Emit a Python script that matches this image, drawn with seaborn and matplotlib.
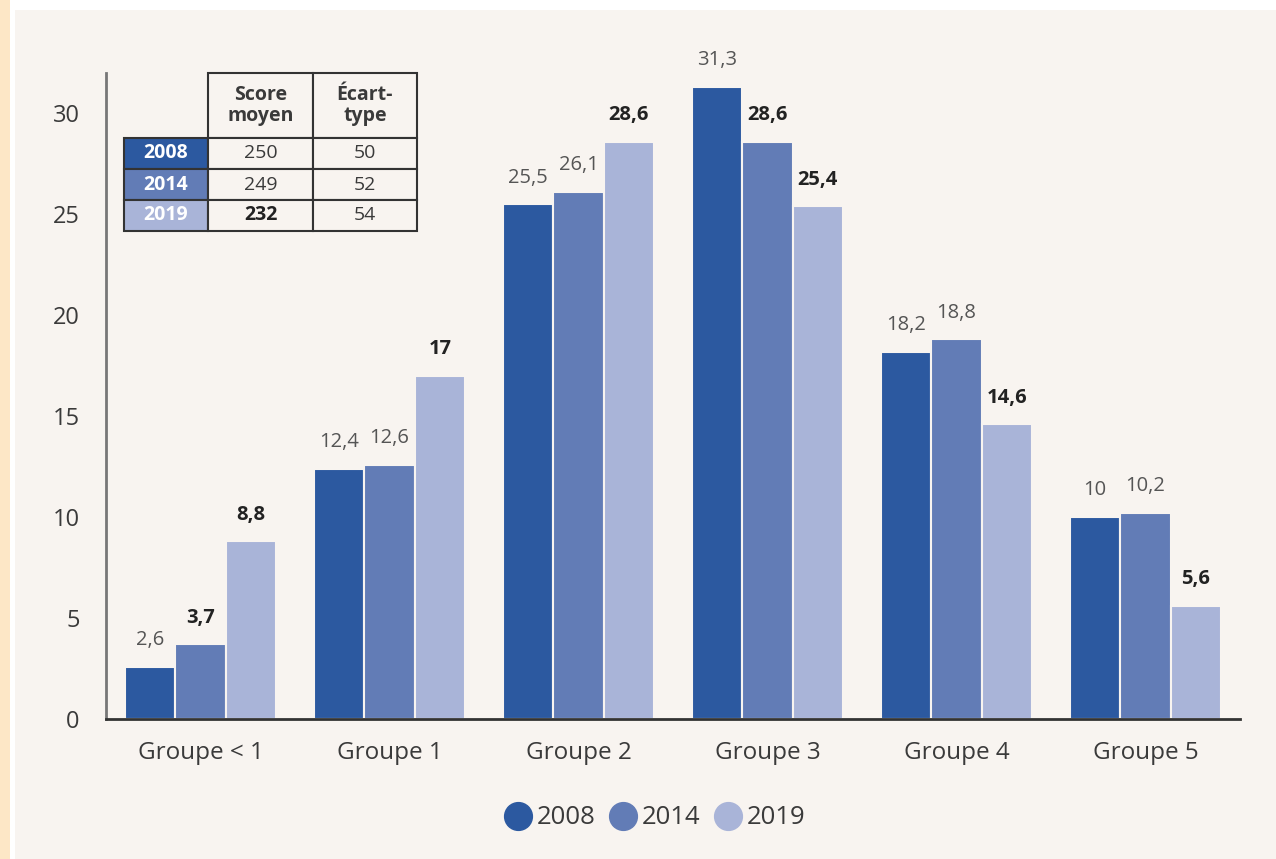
import matplotlib
matplotlib.use("Agg")
import numpy as np
import pandas as pd
import matplotlib.pyplot as plt
import seaborn as sns
from matplotlib.lines import Line2D
from matplotlib.patches import Rectangle

# data
groupes = ["Groupe < 1", "Groupe 1", "Groupe 2", "Groupe 3", "Groupe 4", "Groupe 5"]
annees = ["2008", "2014", "2019"]
val_2008 = [2.6, 12.4, 25.5, 31.3, 18.2, 10]
val_2014 = [3.7, 12.6, 26.1, 28.6, 18.8, 10.2]
val_2019 = [8.8, 17, 28.6, 25.4, 14.6, 5.6]
# bold = significant change
gras_2008 = [False, False, False, False, False, False]
gras_2014 = [True, False, False, True, False, False]
gras_2019 = [True, True, True, True, True, True]

# table
table_entetes = ["", "Score\nmoyen", "Écart-\ntype"]
score_moyen = ["250", "249", "232"]
ecart_type = ["50", "52", "54"]

couleurs = ["#2c59a0", "#627cb6", "#a9b4d8"]
fond = "#f8f4f0"
texte = "#3a3a3a"

df = pd.DataFrame({
    "groupe": groupes * 3,
    "valeur": val_2008 + val_2014 + val_2019,
    "annee": [a for a in annees for _ in groupes],
})

sns.set_style("white")
plt.rcParams["font.family"] = ["Open Sans", "DejaVu Sans"]

fig = plt.figure(figsize=(12.76, 8.59), dpi=100)
fig.patch.set_facecolor("white")
# page background + orange side strip
fig.patches.append(Rectangle((15 / 1276, 0), 1, 1 - 10 / 859, transform=fig.transFigure,
                             facecolor=fond, edgecolor="none", zorder=-10))
fig.patches.append(Rectangle((0, 0), 10 / 1276, 1, transform=fig.transFigure,
                             facecolor="#fde7c6", edgecolor="none", zorder=-10))

ax = fig.add_axes([106 / 1276, 1 - 719 / 859, (1240 - 106) / 1276, (719 - 73) / 859])
ax.set_facecolor(fond)

sns.barplot(data=df, x="groupe", y="valeur", hue="annee", palette=couleurs, saturation=1,
            width=0.8, edgecolor=fond, linewidth=1.5, legend=False, ax=ax)

ax.set_ylim(0, 32)
ax.set_xlim(-0.5, 5.5)
ax.set_yticks([0, 5, 10, 15, 20, 25, 30])
ax.set_xlabel("")
ax.set_ylabel("")
ax.tick_params(axis="y", length=0, pad=19, labelsize=17, labelcolor=texte)
ax.tick_params(axis="x", length=0, pad=16, labelsize=17.5, labelcolor=texte)
for s in ["top", "right"]:
    ax.spines[s].set_visible(False)
ax.spines["left"].set_color("#777777")
ax.spines["left"].set_linewidth(2)
ax.spines["bottom"].set_color("#333333")
ax.spines["bottom"].set_linewidth(2)

# bar labels
for cont, vals, gras in zip(ax.containers, [val_2008, val_2014, val_2019],
                            [gras_2008, gras_2014, gras_2019]):
    labs = [f"{v:g}".replace(".", ",") for v in vals]
    txts = ax.bar_label(cont, labels=labs, padding=12, fontsize=14.5)
    for t, g in zip(txts, gras):
        if g:
            t.set_fontweight("bold")
            t.set_color("#222222")
        else:
            t.set_color("#555555")

# inset table
cell_text = [table_entetes] + [[a, s, e] for a, s, e in zip(annees, score_moyen, ecart_type)]
tab = ax.table(cellText=cell_text, cellLoc="center",
               bbox=[18 / 1134, (719 - 231) / 646, (417 - 124) / 1134, 158 / 646])
tab.auto_set_font_size(False)
tab.set_fontsize(14)
larg = [84, 105, 104]
haut = [65, 31, 31, 31]
for (r, c), cell in tab.get_celld().items():
    cell.set_width(larg[c])
    cell.set_height(haut[r])
    cell.set_edgecolor("#333333")
    cell.set_linewidth(1.5)
    cell.set_facecolor(fond)
    cell.get_text().set_color(texte)
    if r == 0:
        cell.get_text().set_fontweight("bold")
        cell.get_text().set_linespacing(1.0)
        if c == 0:
            cell.visible_edges = ""
    elif c == 0:
        cell.set_facecolor(couleurs[r - 1])
        cell.get_text().set_color("white")
        cell.get_text().set_fontweight("bold")
    if r == 3 and c == 1:
        cell.get_text().set_fontweight("bold")
        cell.get_text().set_color("#222222")

# legend
handles = [Line2D([], [], marker="o", linestyle="none", markersize=20,
                  markerfacecolor=c, markeredgecolor=c) for c in couleurs]
fig.legend(handles, annees, loc="center", bbox_to_anchor=(654 / 1276, 1 - 818 / 859),
           ncol=3, frameon=False, fontsize=18.5, handletextpad=0.15, columnspacing=0.45,
           labelcolor=texte, handlelength=1.2)

plt.savefig("out.png", dpi=100, facecolor=fig.get_facecolor())
